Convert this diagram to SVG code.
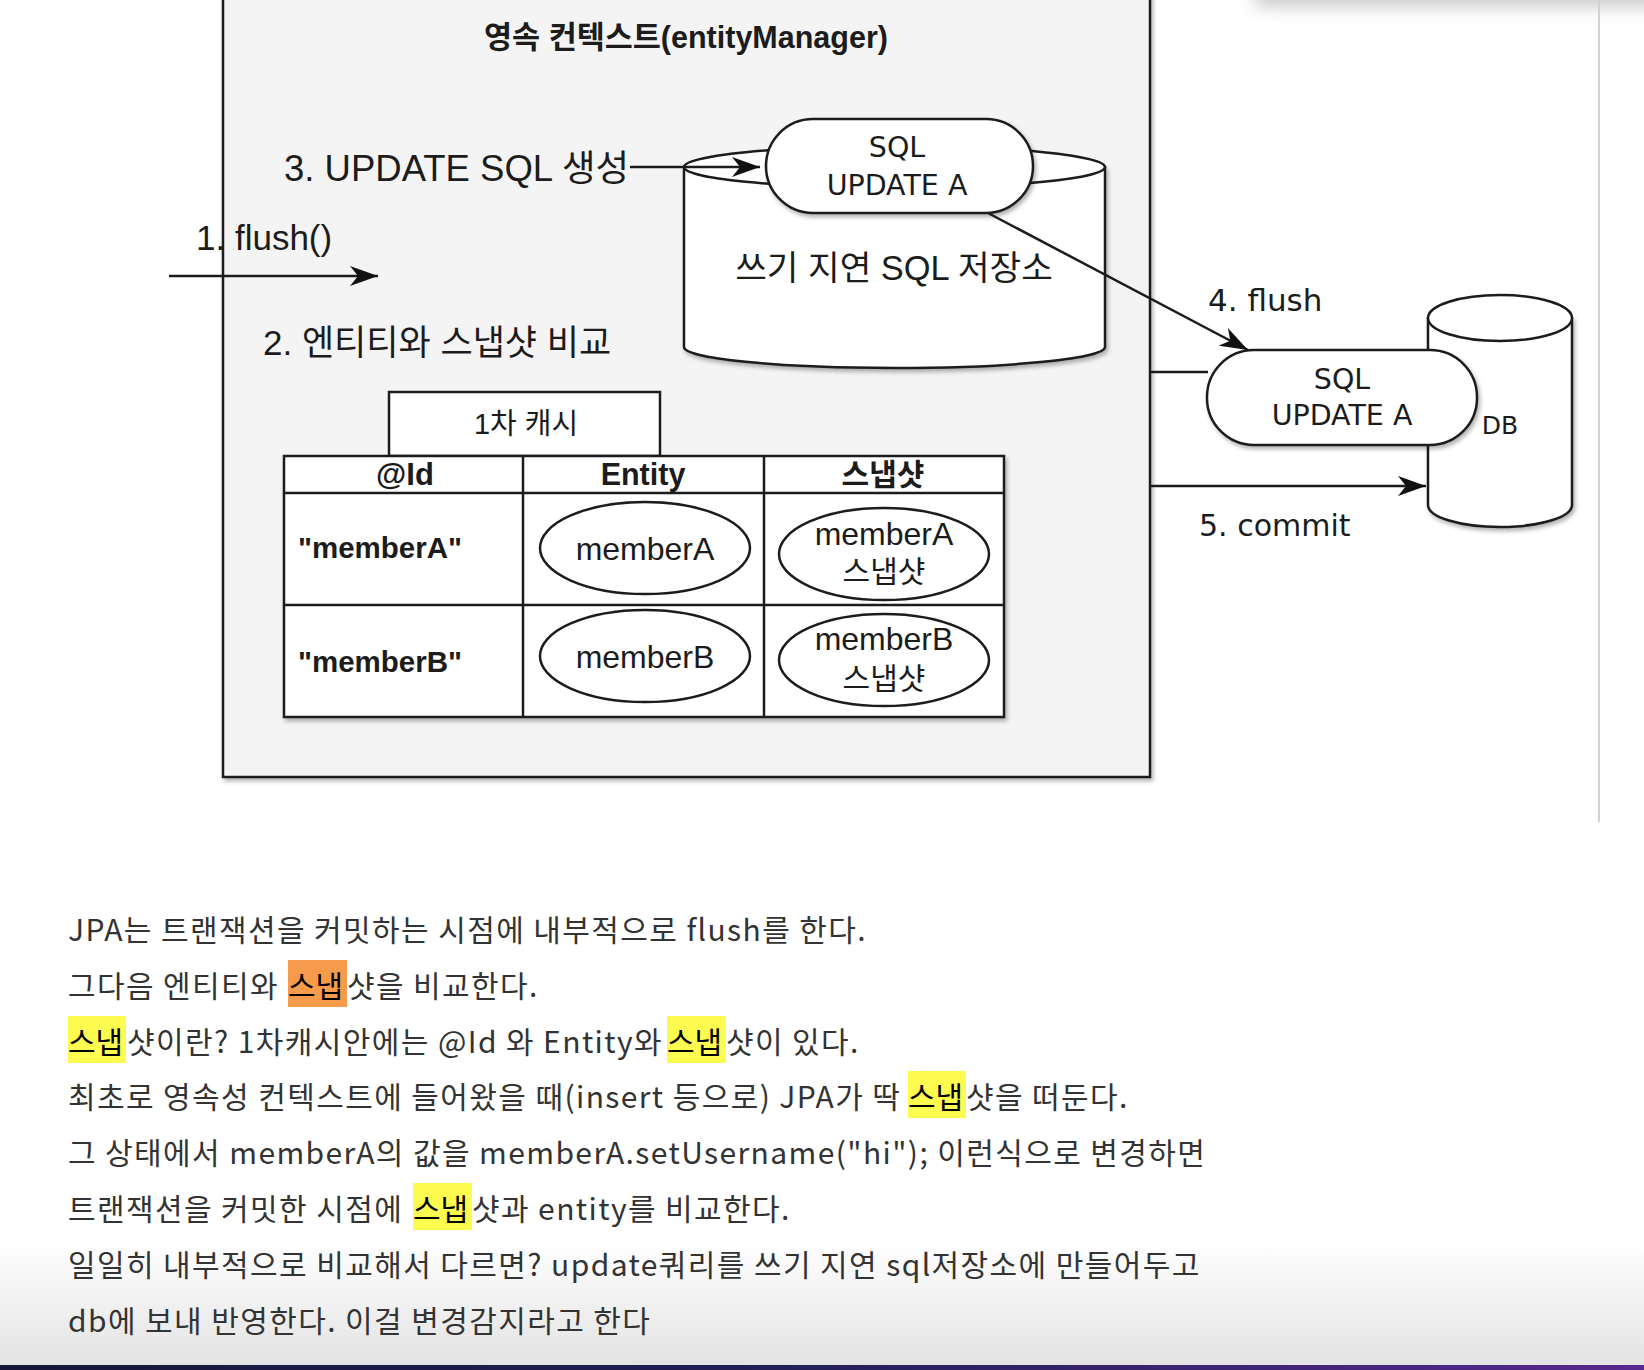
<svg xmlns="http://www.w3.org/2000/svg" width="1644" height="1370" viewBox="0 0 1644 1370">
<defs>
<style>
.s{stroke:#1c1c1c;stroke-width:2.5;}
.w{fill:#fff;}
.ln{fill:none;stroke:#1c1c1c;stroke-width:2.5;}
.lab{font-family:"Liberation Sans","Noto Sans CJK KR",sans-serif;fill:#1c1c1c;}
.lg{font-family:"DejaVu Sans","Noto Sans CJK KR",sans-serif;fill:#1c1c1c;}
.b{font-weight:bold;}
.p{font-family:"Noto Sans CJK KR",sans-serif;font-size:30px;letter-spacing:1.4px;fill:#333;}
.hk{font-family:"Noto Sans CJK KR",sans-serif;font-size:30px;fill:#000;}
.mid{text-anchor:middle;}
</style>
<marker id="ah" markerUnits="userSpaceOnUse" markerWidth="28" markerHeight="20" refX="28" refY="10" orient="auto">
<path d="M0,0 L28,10 L0,20 L8,10 z" fill="#111"/>
</marker>
<filter id="sh" x="-10%" y="-10%" width="130%" height="140%">
<feDropShadow dx="2" dy="3" stdDeviation="2" flood-color="#000" flood-opacity="0.3"/>
</filter>
<filter id="blur" x="-20%" y="-100%" width="140%" height="400%">
<feGaussianBlur stdDeviation="9"/>
</filter>
<linearGradient id="bg" x1="0" y1="0" x2="0" y2="1">
<stop offset="0" stop-color="#ffffff"/>
<stop offset="1" stop-color="#e3e3e3"/>
</linearGradient>
<linearGradient id="bar" x1="0" y1="0" x2="1" y2="0">
<stop offset="0" stop-color="#16163a"/>
<stop offset="0.45" stop-color="#1f1f55"/>
<stop offset="1" stop-color="#56298e"/>
</linearGradient>
</defs>

<rect x="0" y="0" width="1644" height="1370" fill="#fff"/>
<rect x="1255" y="-40" width="520" height="46" fill="#000" opacity="0.22" filter="url(#blur)"/>
<line x1="1599" y1="0" x2="1599" y2="822" stroke="#d2d2d2" stroke-width="2"/>
<rect x="0" y="1240" width="1644" height="126" fill="url(#bg)"/>
<rect x="0" y="1365" width="1644" height="5" fill="url(#bar)"/>

<g id="container">
<rect x="223" y="-10" width="927" height="787" fill="#f4f4f4" class="s" stroke-width="3" filter="url(#sh)"/>
<text x="686" y="48" class="lab b mid" font-size="30.5">영속 컨텍스트(entityManager)</text>
</g>

<g id="label-1">
<text x="196" y="250" class="lab" font-size="35">1. flush()</text>
</g>
<g id="label-3">
<text x="284" y="181" class="lab" font-size="36.5">3. UPDATE SQL 생성</text>
</g>
<g id="label-2">
<text x="263" y="355" class="lab" font-size="35">2. 엔티티와 스냅샷 비교</text>
</g>

<g id="sql-store">
<path d="M684,167 L684,347 A210.5,21 0 0 0 1105,347 L1105,167 Z" class="w s" filter="url(#sh)"/>
<ellipse cx="894.5" cy="167" rx="210.5" ry="21" class="w s"/>
<text x="894" y="280" class="lab mid" font-size="34.4">쓰기 지연 SQL 저장소</text>
</g>

<g id="sql-pill-1">
<rect x="766" y="119" width="267" height="94" rx="47" ry="47" class="w s" filter="url(#sh)"/>
<text x="897" y="157" class="lg mid" font-size="28.5">SQL</text>
<text x="897" y="195" class="lg mid" font-size="28.5">UPDATE A</text>
</g>

<g id="db">
<path d="M1428,318 L1428,505 A72,22 0 0 0 1572,505 L1572,318 Z" class="w s" filter="url(#sh)"/>
<ellipse cx="1500" cy="318" rx="72" ry="23" class="w s"/>
<text x="1500" y="434" class="lg mid" font-size="25">DB</text>
</g>

<g id="sql-pill-2">
<rect x="1207" y="350" width="270" height="95" rx="47" ry="47" class="w s" filter="url(#sh)"/>
<text x="1342" y="389" class="lg mid" font-size="28.5">SQL</text>
<text x="1342" y="425" class="lg mid" font-size="28.5">UPDATE A</text>
</g>

<g id="label-4">
<text x="1208" y="311" class="lg" font-size="31">4. flush</text>
</g>
<g id="label-5">
<text x="1199" y="536" class="lg" font-size="30">5. commit</text>
</g>

<g id="cache-title">
<rect x="389" y="392" width="271" height="64" class="w s"/>
<text x="526" y="434" class="lab mid" font-size="29">1차 캐시</text>
</g>

<g id="cache-table">
<rect x="284" y="456" width="720" height="261" class="w s" filter="url(#sh)"/>
<line x1="284" y1="493" x2="1004" y2="493" class="ln"/>
<line x1="284" y1="605" x2="1004" y2="605" class="ln"/>
<line x1="523" y1="456" x2="523" y2="717" class="ln"/>
<line x1="764" y1="456" x2="764" y2="717" class="ln"/>
<text x="405" y="485" class="lab b mid" font-size="31">@Id</text>
<text x="643" y="485" class="lab b mid" font-size="30.5">Entity</text>
<text x="883" y="485" class="lab b mid" font-size="30">스냅샷</text>
<text x="298" y="558" class="lab b" font-size="29.5">"memberA"</text>
<text x="298" y="672" class="lab b" font-size="29.5">"memberB"</text>
</g>

<g id="entity-a">
<ellipse cx="645" cy="548" rx="105" ry="46" class="w s"/>
<text x="645" y="560" class="lab mid" font-size="32">memberA</text>
</g>
<g id="snapshot-a">
<ellipse cx="884" cy="554" rx="105" ry="46" class="w s"/>
<text x="884" y="545" class="lab mid" font-size="32">memberA</text>
<text x="884" y="582" class="lab mid" font-size="30">스냅샷</text>
</g>
<g id="entity-b">
<ellipse cx="645" cy="656" rx="105" ry="46" class="w s"/>
<text x="645" y="668" class="lab mid" font-size="32">memberB</text>
</g>
<g id="snapshot-b">
<ellipse cx="884" cy="660" rx="105" ry="46" class="w s"/>
<text x="884" y="650" class="lab mid" font-size="32">memberB</text>
<text x="884" y="689" class="lab mid" font-size="30">스냅샷</text>
</g>

<g id="connectors">
<line x1="169" y1="276" x2="378" y2="276" class="ln" marker-end="url(#ah)"/>
<line x1="630" y1="167" x2="760" y2="167" class="ln" marker-end="url(#ah)"/>
<line x1="988" y1="213" x2="1248" y2="350" class="ln" marker-end="url(#ah)"/>
<line x1="1150" y1="372" x2="1208" y2="372" class="ln"/>
<line x1="1150" y1="486" x2="1426" y2="486" class="ln" marker-end="url(#ah)"/>
</g>

<g id="highlights">
<rect x="288" y="960" width="59" height="47" fill="#f59b4b"/>
<rect x="68" y="1016" width="58" height="47" fill="#fdfb50"/>
<rect x="667" y="1016" width="59" height="47" fill="#fdfb50"/>
<rect x="908" y="1071" width="58" height="47" fill="#fdfb50"/>
<rect x="413" y="1183" width="59" height="47" fill="#fdfb50"/>
</g>

<g id="paragraph">
<text x="68" y="941" class="p">JPA는 트랜잭션을 커밋하는 시점에 내부적으로 flush를 한다.</text>
<text x="68" y="997" class="p">그다음 엔티티와</text>
<text x="288" y="997" class="hk">스냅</text>
<text x="347" y="997" class="p">샷을 비교한다.</text>
<text x="68" y="1053" class="hk">스냅</text>
<text x="127" y="1053" class="p">샷이란? 1차캐시안에는 @Id 와 Entity와</text>
<text x="667" y="1053" class="hk">스냅</text>
<text x="726" y="1053" class="p">샷이 있다.</text>
<text x="68" y="1108" class="p">최초로 영속성 컨텍스트에 들어왔을 때(insert 등으로) JPA가 딱</text>
<text x="908" y="1108" class="hk">스냅</text>
<text x="966" y="1108" class="p">샷을 떠둔다.</text>
<text x="68" y="1164" class="p">그 상태에서 memberA의 값을 memberA.setUsername("hi"); 이런식으로 변경하면</text>
<text x="68" y="1220" class="p">트랜잭션을 커밋한 시점에</text>
<text x="413" y="1220" class="hk">스냅</text>
<text x="472" y="1220" class="p">샷과 entity를 비교한다.</text>
<text x="68" y="1276" class="p">일일히 내부적으로 비교해서 다르면? update쿼리를 쓰기 지연 sql저장소에 만들어두고</text>
<text x="68" y="1332" class="p">db에 보내 반영한다. 이걸 변경감지라고 한다</text>
</g>
</svg>
